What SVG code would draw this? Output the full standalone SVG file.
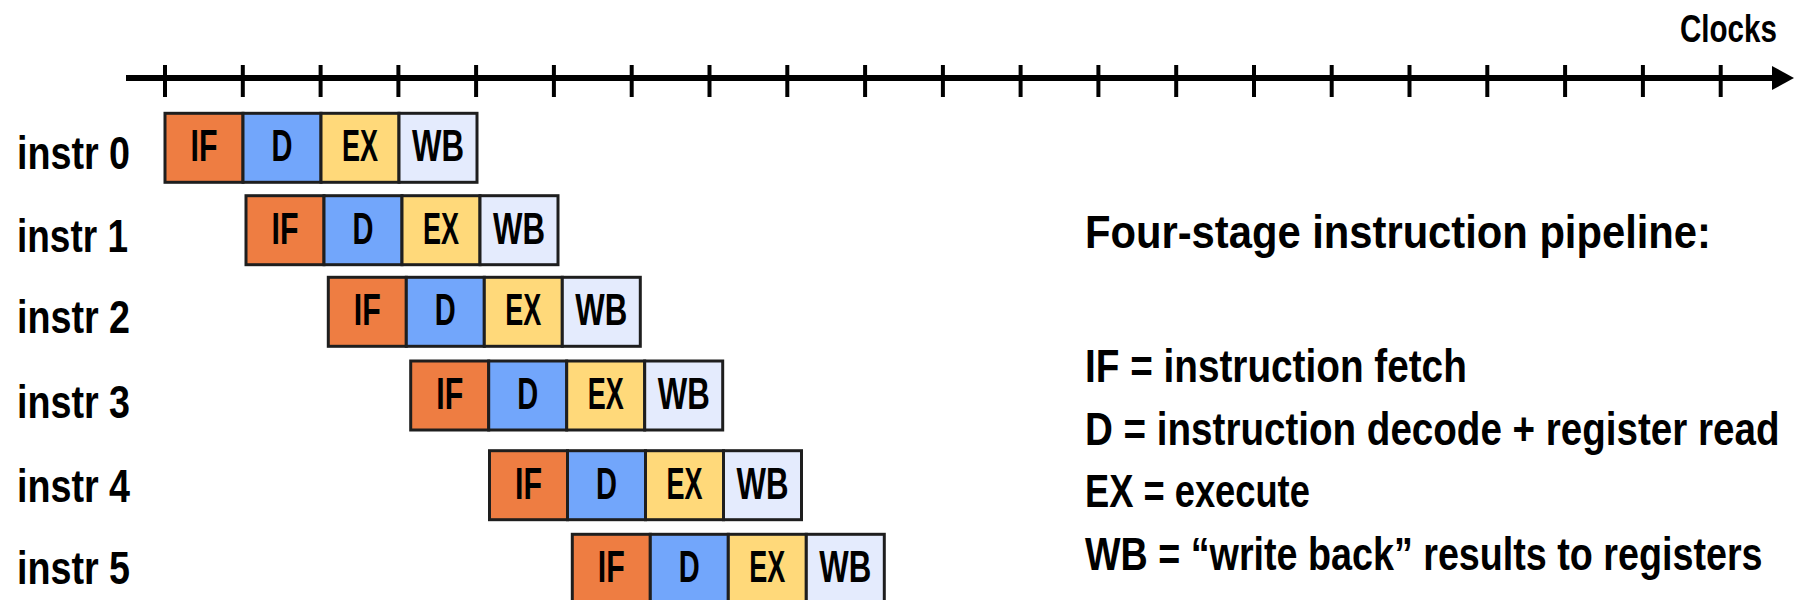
<svg xmlns="http://www.w3.org/2000/svg" width="1794" height="600" viewBox="0 0 1794 600">
<style>
text{font-family:"Liberation Sans",Arial,sans-serif;font-weight:bold;fill:#000}
.lbl{font-size:46px}
.st{font-size:44px;text-anchor:middle}
.desc{font-size:47px}
.box{stroke:#1e1e1e;stroke-width:3}
.IF{fill:#EE7D42}.D{fill:#72A6FB}.EX{fill:#FFD97A}.WB{fill:#E4EBFD}
.tick{stroke:#000;stroke-width:4}
</style>
<defs>
<g id="pipe">
<rect class="box IF" x="0" y="0" width="78" height="69"/>
<rect class="box D" x="78" y="0" width="78" height="69"/>
<rect class="box EX" x="156" y="0" width="78" height="69"/>
<rect class="box WB" x="234" y="0" width="78" height="69"/>
<text class="st" transform="translate(39,48) scale(0.69,1)">IF</text>
<text class="st" transform="translate(117,48) scale(0.66,1)">D</text>
<text class="st" transform="translate(195,48) scale(0.613,1)">EX</text>
<text class="st" transform="translate(273,48) scale(0.709,1)">WB</text>
</g>
</defs>
<rect width="1794" height="600" fill="#fff"/>
<g id="connectors">
<line x1="126" y1="78" x2="1774" y2="78" stroke="#000" stroke-width="6"/>
<polygon points="1772,66 1794,78 1772,90" fill="#000"/>
<g class="tick">
<line x1="165" y1="65" x2="165" y2="97"/>
<line x1="242.8" y1="65" x2="242.8" y2="97"/>
<line x1="320.6" y1="65" x2="320.6" y2="97"/>
<line x1="398.4" y1="65" x2="398.4" y2="97"/>
<line x1="476.1" y1="65" x2="476.1" y2="97"/>
<line x1="553.9" y1="65" x2="553.9" y2="97"/>
<line x1="631.7" y1="65" x2="631.7" y2="97"/>
<line x1="709.5" y1="65" x2="709.5" y2="97"/>
<line x1="787.3" y1="65" x2="787.3" y2="97"/>
<line x1="865.1" y1="65" x2="865.1" y2="97"/>
<line x1="942.9" y1="65" x2="942.9" y2="97"/>
<line x1="1020.6" y1="65" x2="1020.6" y2="97"/>
<line x1="1098.4" y1="65" x2="1098.4" y2="97"/>
<line x1="1176.2" y1="65" x2="1176.2" y2="97"/>
<line x1="1254" y1="65" x2="1254" y2="97"/>
<line x1="1331.7" y1="65" x2="1331.7" y2="97"/>
<line x1="1409.5" y1="65" x2="1409.5" y2="97"/>
<line x1="1487.3" y1="65" x2="1487.3" y2="97"/>
<line x1="1565.1" y1="65" x2="1565.1" y2="97"/>
<line x1="1642.9" y1="65" x2="1642.9" y2="97"/>
<line x1="1720.7" y1="65" x2="1720.7" y2="97"/>
</g>
<text style="font-size:39px" transform="translate(1680,42) scale(0.758,1)">Clocks</text>
</g>
<g id="instr0"><text class="lbl" transform="translate(17,169) scale(0.819,1)">instr 0</text><use href="#pipe" x="165" y="113.3"/></g>
<g id="instr1"><text class="lbl" transform="translate(17,251.7) scale(0.804,1)">instr 1</text><use href="#pipe" x="246" y="195.7"/></g>
<g id="instr2"><text class="lbl" transform="translate(17,333.3) scale(0.819,1)">instr 2</text><use href="#pipe" x="328.3" y="277.3"/></g>
<g id="instr3"><text class="lbl" transform="translate(17,418.3) scale(0.819,1)">instr 3</text><use href="#pipe" x="410.7" y="361"/></g>
<g id="instr4"><text class="lbl" transform="translate(17,502.3) scale(0.819,1)">instr 4</text><use href="#pipe" x="489.5" y="450.7"/></g>
<g id="instr5"><text class="lbl" transform="translate(17,584) scale(0.819,1)">instr 5</text><use href="#pipe" x="572.3" y="534.3"/></g>
<g id="legend">
<text class="desc" transform="translate(1085,248) scale(0.888,1)">Four-stage instruction pipeline:</text>
<text class="desc" transform="translate(1085,382) scale(0.824,1)">IF = instruction fetch</text>
<text class="desc" transform="translate(1085,445) scale(0.821,1)">D = instruction decode + register read</text>
<text class="desc" transform="translate(1085,507) scale(0.772,1)">EX = execute</text>
<text class="desc" transform="translate(1085,570) scale(0.802,1)">WB = “write back” results to registers</text>
</g>
</svg>
